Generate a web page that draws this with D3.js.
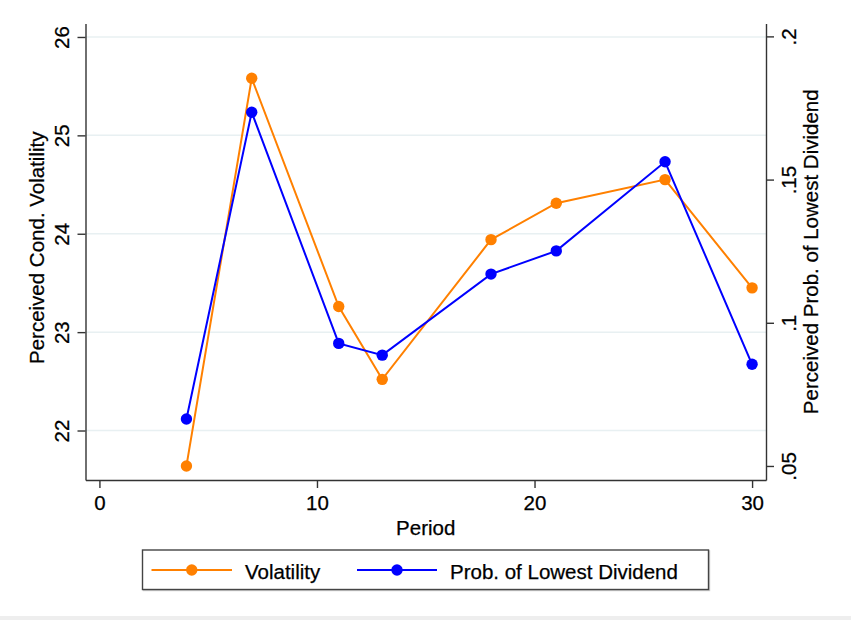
<!DOCTYPE html>
<html>
<head>
<meta charset="utf-8">
<script src="https://cdn.jsdelivr.net/npm/d3@7/dist/d3.min.js"></script>
<style>
  html, body { margin: 0; padding: 0; background: #fff; }
  svg { display: block; font-family: "Liberation Sans", Arial, Helvetica, sans-serif; }
  svg text { fill: #000; stroke: #000; stroke-width: 0.25px; }
</style>
</head>
<body>
<svg id="chart" width="851" height="620"></svg>
<script>
// Survey periods and the two perceived measures
const periods = [4, 7, 11, 13, 18, 21, 26, 30];
const volatility = [21.64, 25.58, 23.26, 22.52, 23.94, 24.31, 24.55, 23.45];
const probLowest = [0.0664, 0.1735, 0.0928, 0.0887, 0.1170, 0.1251, 0.1562, 0.0855];

const xTicks = [0, 10, 20, 30];
const leftTicks = [22, 23, 24, 25, 26];
const rightTicks = [0.05, 0.1, 0.15, 0.2];

const seriesNames = ["Volatility", "Prob. of Lowest Dividend"];
const seriesColors = ["#ff8000", "#0000ff"];

const svg = d3.select("#chart");
const W = 851, H = 620;
const plot = { left: 85.5, right: 766, top: 23.5, bottom: 480 };

const x = d3.scaleLinear().domain([-0.64, 30.64]).range([plot.left, plot.right]);
const yL = d3.scaleLinear().domain([21.497, 26.137]).range([plot.bottom, plot.top]);
const yR = d3.scaleLinear().domain([0.0451, 0.2045]).range([plot.bottom, plot.top]);

svg.append("rect").attr("width", W).attr("height", H).attr("fill", "#fff");
svg.append("rect").attr("x", 0).attr("y", 616).attr("width", W).attr("height", 4).attr("fill", "#eeeeee");

// Horizontal gridlines at the left-axis ticks
svg.append("g").selectAll("line").data(leftTicks).join("line")
  .attr("x1", plot.left).attr("x2", plot.right)
  .attr("y1", d => yL(d)).attr("y2", d => yL(d))
  .attr("stroke", "#e8f0f2").attr("stroke-width", 1.5);

const axisColor = "#333";
const tickFont = 20.5;
const titleFont = 20.5;

function styleAxis(g) {
  g.select(".domain").attr("stroke", axisColor).attr("stroke-width", 1.4);
  g.selectAll(".tick line").attr("stroke", axisColor).attr("stroke-width", 1.4);
  g.selectAll(".tick text").attr("font-size", tickFont)
    .attr("font-family", "'Liberation Sans', Arial, Helvetica, sans-serif");
}

// Left axis
const gL = svg.append("g").attr("transform", `translate(${plot.left},0)`)
  .call(d3.axisLeft(yL).tickValues(leftTicks).tickSize(8).tickSizeOuter(0).tickFormat(d3.format("d")));
styleAxis(gL);
gL.selectAll(".tick text").attr("x", 0).attr("dy", 0).attr("text-anchor", "middle")
  .attr("transform", "translate(-17,0) rotate(-90)");

// Right axis
const fmtR = d => d3.format(".2~f")(d).replace(/^0/, "");
const gR = svg.append("g").attr("transform", `translate(${plot.right},0)`)
  .call(d3.axisRight(yR).tickValues(rightTicks).tickSize(8).tickSizeOuter(0).tickFormat(fmtR));
styleAxis(gR);
gR.selectAll(".tick text").attr("x", 0).attr("dy", 0).attr("text-anchor", "middle")
  .attr("transform", "translate(29.5,0) rotate(-90)");

// Bottom axis
const gB = svg.append("g").attr("transform", `translate(0,${plot.bottom})`)
  .call(d3.axisBottom(x).tickValues(xTicks).tickSize(8).tickSizeOuter(0).tickFormat(d3.format("d")));
styleAxis(gB);
gB.selectAll(".tick text").attr("dy", 0).attr("y", 30);

// Axis titles
svg.append("text").attr("transform", `translate(44,${(plot.top + plot.bottom) / 2 - 4}) rotate(-90)`)
  .attr("text-anchor", "middle").attr("font-size", titleFont).text("Perceived Cond. Volatility");
svg.append("text").attr("transform", `translate(818,${(plot.top + plot.bottom) / 2}) rotate(-90)`)
  .attr("text-anchor", "middle").attr("font-size", titleFont).text("Perceived Prob. of Lowest Dividend");
svg.append("text").attr("x", (plot.left + plot.right) / 2).attr("y", 535)
  .attr("text-anchor", "middle").attr("font-size", titleFont).text("Period");

// Series
const series = [
  { values: volatility, y: yL, color: seriesColors[0] },
  { values: probLowest, y: yR, color: seriesColors[1] }
];
series.forEach(s => {
  const pts = periods.map((p, i) => [p, s.values[i]]);
  svg.append("path").datum(pts)
    .attr("fill", "none").attr("stroke", s.color).attr("stroke-width", 2)
    .attr("d", d3.line().x(d => x(d[0])).y(d => s.y(d[1])));
  svg.append("g").selectAll("circle").data(pts).join("circle")
    .attr("cx", d => x(d[0])).attr("cy", d => s.y(d[1])).attr("r", 5.7)
    .attr("fill", s.color);
});

// Legend
const legend = svg.append("g");
legend.append("rect").attr("x", 143.5).attr("y", 551).attr("width", 566).attr("height", 39.5)
  .attr("fill", "none").attr("stroke", "#ccc").attr("stroke-width", 1.4);
legend.append("rect").attr("x", 142.5).attr("y", 550).attr("width", 566).attr("height", 39.5)
  .attr("fill", "#fff").attr("stroke", "#444").attr("stroke-width", 1.4);
const legendItems = [
  { x1: 151.5, x2: 232, tx: 245 },
  { x1: 357, x2: 437, tx: 450 }
];
legendItems.forEach((it, i) => {
  legend.append("line").attr("x1", it.x1).attr("x2", it.x2).attr("y1", 570).attr("y2", 570)
    .attr("stroke", seriesColors[i]).attr("stroke-width", 2);
  legend.append("circle").attr("cx", (it.x1 + it.x2) / 2).attr("cy", 570).attr("r", 5.7)
    .attr("fill", seriesColors[i]);
  legend.append("text").attr("x", it.tx).attr("y", 579).attr("font-size", titleFont).text(seriesNames[i]);
});
</script>
</body>
</html>
